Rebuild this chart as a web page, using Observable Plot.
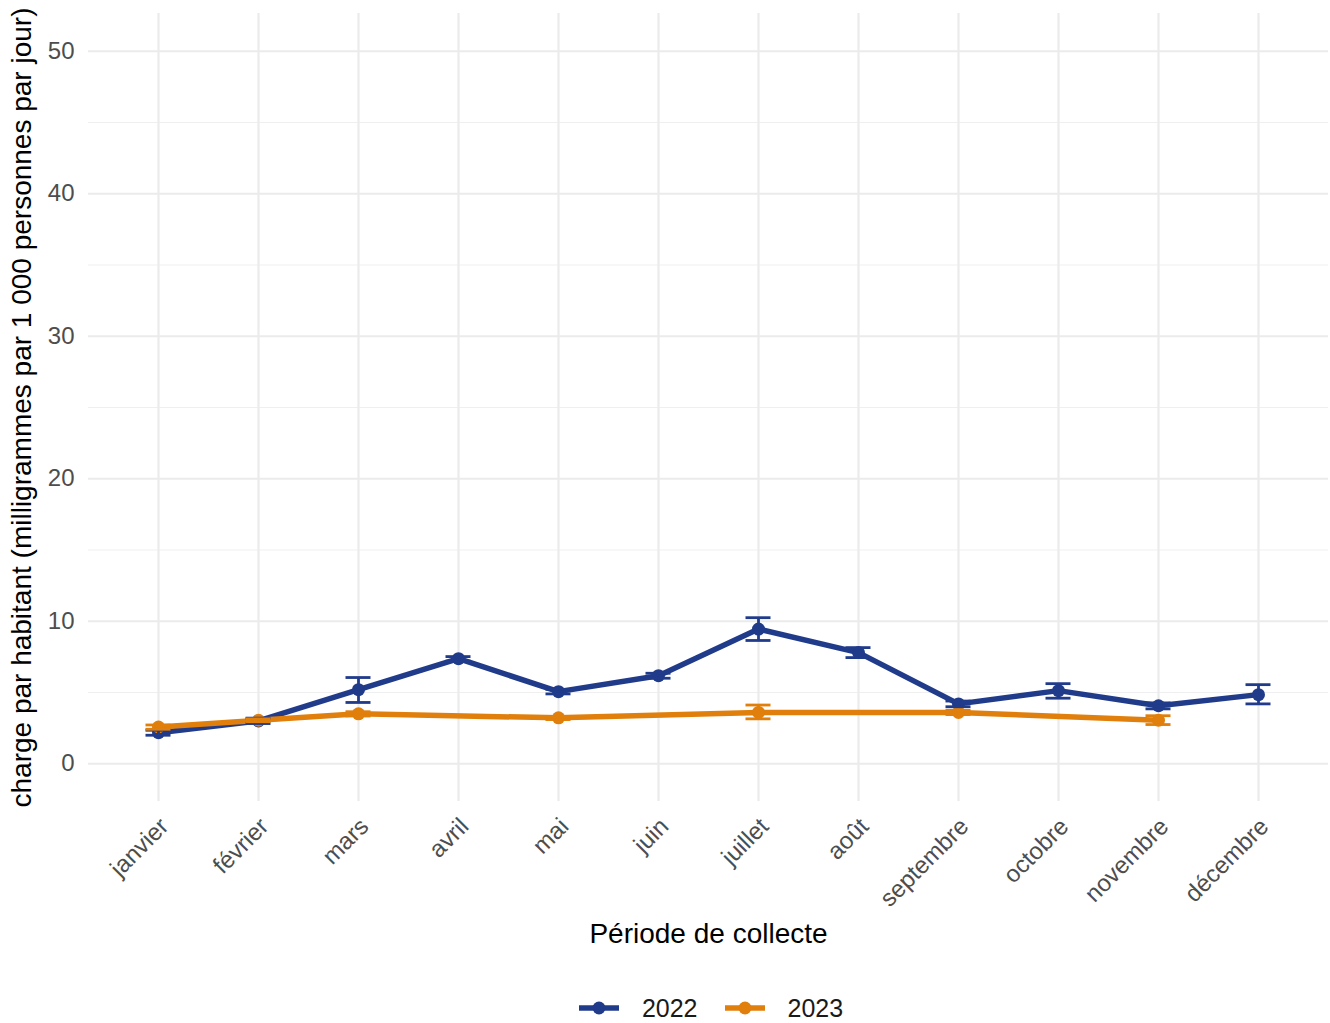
<!DOCTYPE html>
<html><head><meta charset="utf-8">
<script src="https://cdn.jsdelivr.net/npm/d3@7"></script>
<script src="https://cdn.jsdelivr.net/npm/@observablehq/plot@0.6"></script>
<style>
html,body{margin:0;background:#fff;font-family:"Liberation Sans",Arial,sans-serif;overflow:hidden}
#legend{display:flex;justify-content:center;align-items:center;height:30px;margin-top:23px;padding-left:92px;font-size:25px;color:#1a1a1a}
#legend .item{display:flex;align-items:center}
#legend .item + .item{margin-left:27px}
#legend span{margin-left:23px}
</style>
</head><body><div id="chart"></div><div id="legend"></div>
<script>
const months = ["janvier","février","mars","avril","mai","juin","juillet","août","septembre","octobre","novembre","décembre"];
const years = ["2022","2023"];
const colors = ["#213b8b","#e07f0b"];
const val2022 = [2.18, 3.0, 5.2, 7.37, 5.06, 6.18, 9.45, 7.8, 4.2, 5.13, 4.07, 4.85];
const lo2022  = [2.0, 2.82, 4.3, 7.2, 4.9, 6.0, 8.65, 7.45, 4.0, 4.6, 3.85, 4.2];
const hi2022  = [2.35, 3.2, 6.05, 7.52, 5.22, 6.35, 10.25, 8.15, 4.4, 5.62, 4.27, 5.55];
const val2023 = [2.58, 3.05, 3.5, null, 3.22, null, 3.6, null, 3.6, null, 3.05, null];
const lo2023  = [2.42, 2.95, 3.35, null, 3.1, null, 3.15, null, 3.45, null, 2.75, null];
const hi2023  = [2.72, 3.15, 3.65, null, 3.32, null, 4.12, null, 3.75, null, 3.37, null];
const yTicks = [0, 10, 20, 30, 40, 50];
const yMinor = [5, 15, 25, 35, 45];
const xTitle = "Période de collecte";
const yTitle = "charge par habitant (milligrammes par 1 000 personnes par jour)";

const series = [[val2022, lo2022, hi2022], [val2023, lo2023, hi2023]];
const data = [];
years.forEach((year, k) => {
  const [v, lo, hi] = series[k];
  months.forEach((m, i) => {
    if (v[i] != null) data.push({year, i, month: m, v: v[i], lo: lo[i], hi: hi[i]});
  });
});
const caps = data.flatMap(d => [{...d, y: d.lo}, {...d, y: d.hi}]);
const idx = months.map((m, i) => i);

const chart = Plot.plot({
  width: 1330, height: 970,
  marginLeft: 88, marginRight: 2, marginTop: 13, marginBottom: 169,
  style: {fontFamily: "Liberation Sans, Arial, sans-serif", fontSize: "24px", color: "#4d4d4d", background: "white"},
  x: {domain: [-0.7, 11.7], axis: null},
  y: {domain: [-2.65, 52.65], ticks: yTicks, tickSize: 0, tickPadding: 14, label: null},
  color: {domain: years, range: colors},
  marks: [
    Plot.ruleY(yMinor, {stroke: "#efefef", strokeWidth: 1.2}),
    Plot.ruleY(yTicks, {stroke: "#ebebeb", strokeWidth: 2.2}),
    Plot.ruleX(idx, {stroke: "#ebebeb", strokeWidth: 2.2}),
    Plot.text(idx, {x: d => d, text: d => months[d], frameAnchor: "bottom", rotate: -45, textAnchor: "end", lineAnchor: "middle", dx: 6, dy: 21, fontSize: 24, fill: "#4d4d4d"}),
    Plot.line(data, {x: "i", y: "v", stroke: "year", z: "year", strokeWidth: 5.5}),
    Plot.dot(data, {x: "i", y: "v", fill: "year", r: 6.5}),
    Plot.ruleX(data, {x: "i", y1: "lo", y2: "hi", stroke: "year", strokeWidth: 2.8}),
    Plot.ruleY(caps, {y: "y", x1: d => d.i - 0.125, x2: d => d.i + 0.125, stroke: "year", strokeWidth: 2.8}),
    Plot.text([xTitle], {text: d => d, frameAnchor: "bottom", dy: 141, fontSize: 28, fill: "black"}),
    Plot.text([yTitle], {text: d => d, frameAnchor: "left", textAnchor: "middle", dx: -66, rotate: -90, fontSize: 28, fill: "black"})
  ]
});
document.getElementById("chart").appendChild(chart);

const legend = document.getElementById("legend");
years.forEach((y, k) => {
  const item = document.createElement("div");
  item.className = "item";
  item.innerHTML = `<svg width="40" height="30"><line x1="0" x2="40" y1="15" y2="15" stroke="${colors[k]}" stroke-width="5.5"/><circle cx="20" cy="15" r="6.5" fill="${colors[k]}"/></svg><span>${y}</span>`;
  legend.appendChild(item);
});
</script>
</body></html>
